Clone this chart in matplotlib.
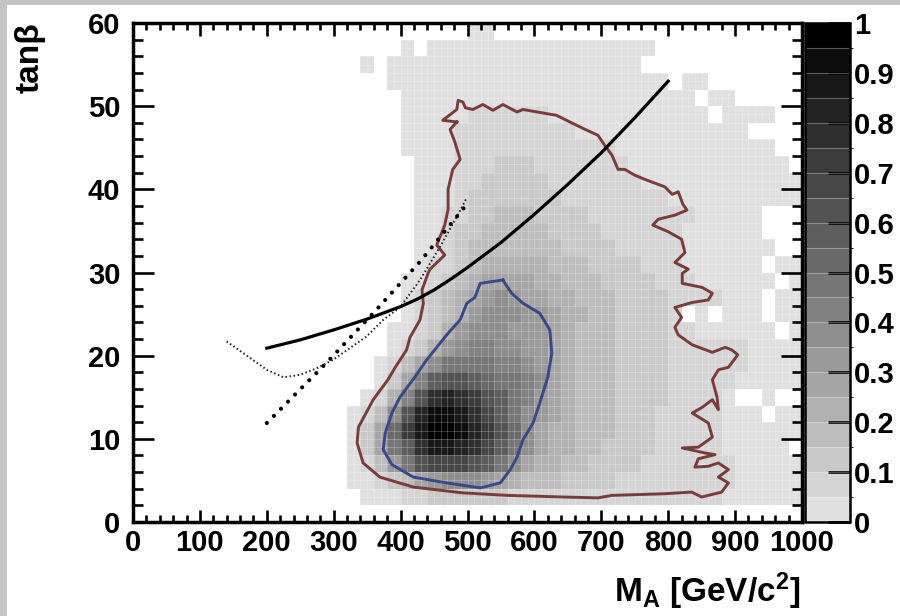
import numpy as np
import matplotlib
matplotlib.use("Agg")
import matplotlib.pyplot as plt
from matplotlib.colors import ListedColormap, BoundaryNorm
from matplotlib.patches import Rectangle

plt.rcParams['font.family'] = ['Liberation Sans', 'DejaVu Sans']
plt.rcParams['font.weight'] = 'bold'
plt.rcParams['mathtext.fontset'] = 'custom'
plt.rcParams['mathtext.rm'] = 'Liberation Sans:bold'
plt.rcParams['mathtext.it'] = 'Liberation Sans:bold'
plt.rcParams['mathtext.bf'] = 'Liberation Sans:bold'

# ---------------- data ----------------
# 2D posterior histogram.
# each row: (tanb bin low edge, M_A of first cell, level codes); one code = 20 GeV x 2 in tanb
# '.' = empty bin, '0'..'9','a'..'j' = colour level 0..19 (value band of 0.05)
LEVEL_CODES = "0123456789abcdefghij"
hist_rows = [
    (58, 500, "00"),
    (56, 400, "0.00000000000000000"),
    (54, 340, "0.0000000000000000000"),
    (52, 380, "000000000000000000000.00"),
    (50, 400, "0000000000000000000000.00"),
    (48, 400, "00000111111000000000000.0000"),
    (46, 400, "00001111111110000000000000"),
    (44, 400, "0000111111111111000000000000"),
    (42, 420, "0001112221111111000000000000"),
    (40, 420, "00011222221111111000000000000"),
    (38, 420, "00012222222111111110000000000"),
    (36, 420, "00112233322221111111100000...."),
    (34, 420, "00122333332222111111000000..."),
    (32, 420, "001233333332222111110000000.."),
    (30, 420, "01123444443332222111000000.00"),
    (28, 400, "0012345555443332222111000000.0"),
    (26, 400, "012345676554433322221111000.00"),
    (24, 400, "012346777665443322221.0.000.00"),
    (22, 380, "00124677766654333222211000000.0"),
    (20, 380, "0124678877665433322221111110000"),
    (18, 360, "01357999988765433322221111110000"),
    (16, 360, "0258bccba99875433322221111100000"),
    (14, 340, "0148cfgfecb98654333222211110..0"),
    (12, 320, "0137cgiihfdb9765433322211111000.00"),
    (10, 320, "025aehjjigeca754433322211111000000"),
    (8, 320, "0259bfhhgfdb975443322221111100000"),
    (6, 320, "01369cdddcb97544332222111111100000"),
    (4, 320, "0012356777654333222211111111100000"),
    (2, 340, "000112222221111111111111111000000"),
]

# contour lines (M_A, tanb)
outer_ma = [484, 463, 484, 486, 493, 497, 508, 523, 538, 553, 574, 583, 604, 633, 653,
            676, 695, 705, 716, 725, 735, 750, 765, 795, 806, 815, 822, 828, 810, 785,
            777, 800, 820, 825, 810, 830, 821, 821, 851, 866, 860, 836, 810, 820, 810,
            815, 836, 866, 885, 895, 904, 890, 875, 866, 873, 875, 866, 851, 836, 860,
            866, 845, 821, 855, 870, 845, 840, 860, 875, 890, 875, 890, 880, 850, 835,
            795, 716, 695, 646, 560, 493, 419, 369, 344, 335, 337, 359, 381, 392, 409,
            414, 429, 434, 432, 441, 444, 466, 454, 466, 471, 471, 478, 489, 481, 474, 484]
outer_tb = [48.1, 48.3, 49.6, 50.7, 50.5, 49.8, 49.6, 50.2, 49.5, 50.2, 49.3, 49.6, 49.3, 48.9, 48.1,
            47.2, 46.5, 45.3, 44.1, 42.4, 42.4, 41.7, 41.2, 40.3, 39.4, 39.7, 38.2, 37.5, 36.9, 36.4,
            35.7, 34.9, 34.0, 32.4, 31.2, 30.4, 29.9, 28.7, 28.2, 27.5, 26.7, 26.4, 25.8, 24.6, 23.4,
            22.5, 21.3, 20.4, 21.0, 20.7, 20.1, 18.6, 18.3, 17.1, 15.0, 13.5, 14.7, 13.8, 13.1, 11.9,
            10.2, 9.0, 8.9, 8.3, 8.1, 7.6, 6.6, 6.7, 7.1, 6.3, 5.4, 4.7, 3.6, 3.0, 3.6,
            3.4, 3.2, 2.9, 3.0, 3.2, 3.5, 4.2, 5.4, 7.1, 9.5, 11.4, 14.7, 17.1, 18.6, 20.7,
            22.2, 24.3, 26.3, 27.9, 29.9, 30.4, 32.1, 33.3, 35.7, 37.6, 40.0, 42.4, 43.6, 45.7, 47.2, 48.1]

inner_ma = [553, 519, 511, 499, 489, 471, 459, 439, 421, 399, 387, 377, 374, 387, 419,
            469, 519, 549, 564, 574, 583, 598, 608, 620, 626, 623, 608, 583, 566, 556, 553]
inner_tb = [29.1, 28.7, 27.0, 26.3, 24.3, 22.7, 21.5, 19.5, 17.4, 15.0, 13.1, 10.7, 8.7, 6.9, 5.4,
            4.7, 4.1, 4.7, 6.3, 7.8, 9.9, 11.9, 14.3, 17.4, 20.3, 23.1, 25.1, 26.3, 27.5, 28.7, 29.1]

solid_ma = [200, 250, 300, 350, 400, 425, 450, 475, 500, 550, 600, 650, 700, 750, 800]
solid_tb = [20.9, 21.9, 23.1, 24.4, 25.9, 26.8, 27.9, 29.2, 30.6, 33.6, 37.0, 40.6, 44.4, 48.6, 53.0]

dash_ma = [200, 290, 359, 429, 500]
dash_tb = [11.9, 19.2, 25.1, 31.3, 38.3]

dot_ma = [140, 165, 200, 225, 250, 275, 299, 324, 349, 374, 399, 429, 459, 484, 499]
dot_tb = [21.7, 20.3, 18.3, 17.4, 17.7, 18.5, 19.5, 20.9, 22.3, 24.3, 25.8, 29.1, 33.1, 36.7, 39.0]

x_ticks = list(range(0, 1001, 100))
y_ticks = list(range(0, 61, 10))
cb_ticks = [0, 0.1, 0.2, 0.3, 0.4, 0.5, 0.6, 0.7, 0.8, 0.9, 1]
cb_labels = ['0', '0.1', '0.2', '0.3', '0.4', '0.5', '0.6', '0.7', '0.8', '0.9', '1']

# ---------------- figure ----------------
W, H = 900, 616
fig = plt.figure(figsize=(W / 100, H / 100), dpi=100, facecolor='#c4c4c4')
fig.add_artist(Rectangle((7 / W, 0), 1, 1 - 5 / H, transform=fig.transFigure,
                         facecolor='white', edgecolor='none', zorder=-10))

ax = fig.add_axes([133 / W, 1 - 522 / H, 669 / W, 499 / H])

ma_edges = np.arange(0, 1001, 20)
tb_edges = np.arange(0, 61, 2)
z = np.full((len(tb_edges) - 1, len(ma_edges) - 1), np.nan)
for tb_low, x0, codes in hist_rows:
    r = tb_low // 2
    c0 = x0 // 20
    for k, ch in enumerate(codes):
        if ch != '.' and c0 + k < z.shape[1]:
            z[r, c0 + k] = (LEVEL_CODES.index(ch) + 0.5) / 20

greys = [(0.88 * (1 - k / 19),) * 3 for k in range(20)]
cmap = ListedColormap(greys)
norm = BoundaryNorm(np.linspace(0, 1, 21), 20)
mesh = ax.pcolormesh(ma_edges, tb_edges, np.ma.masked_invalid(z), cmap=cmap, norm=norm,
                     shading='flat', zorder=1)

# fine bin texture
ax.vlines(np.arange(10, 1000, 10), 0, 60, colors='white', lw=0.5, alpha=0.3, zorder=1.5)
ax.hlines(np.arange(1, 60, 1), 0, 1000, colors='white', lw=0.5, alpha=0.3, zorder=1.5)

ax.plot(outer_ma, outer_tb, color='#7a3b3b', lw=2.1, zorder=3, solid_joinstyle='round')
ax.plot(inner_ma, inner_tb, color='#3b4888', lw=2.1, zorder=3, solid_joinstyle='round')
ax.plot(solid_ma, solid_tb, color='black', lw=2.3, zorder=4)
ax.plot(dash_ma, dash_tb, color='black', lw=3.0, linestyle=(0, (0.01, 2.4)),
        dash_capstyle='round', zorder=4)
ax.plot(dot_ma, dot_tb, color='#222222', lw=1.4, linestyle=(0, (0.8, 1.3)), zorder=4)

ax.set_xlim(0, 1000)
ax.set_ylim(0, 60)
ax.set_xticks(x_ticks)
ax.set_yticks(y_ticks)
ax.set_xticks(np.arange(0, 1001, 20), minor=True)
ax.set_yticks(np.arange(0, 61, 2), minor=True)
for s in ax.spines.values():
    s.set_linewidth(2.5)
ax.tick_params(which='both', direction='in', top=True, right=True, width=1.9, labelsize=21)
ax.xaxis.set_tick_params(which='major', length=9, pad=5)
ax.xaxis.set_tick_params(which='minor', length=5)
ax.yaxis.set_tick_params(which='major', length=15, pad=9)
ax.yaxis.set_tick_params(which='minor', length=7)
for lab in ax.get_xticklabels() + ax.get_yticklabels():
    lab.set_fontweight('bold')

# colour bar
cax = fig.add_axes([805 / W, 1 - 522 / H, 45 / W, 499 / H])
cb = fig.colorbar(mesh, cax=cax, ticks=cb_ticks, drawedges=True)
cb.dividers.set_color('white')
cb.dividers.set_alpha(0.3)
cb.dividers.set_linewidth(0.8)
cb.outline.set_linewidth(1.8)
cax.tick_params(direction='in', length=16, width=1.9, labelsize=21, pad=3)
cax.set_yticklabels(cb_labels)
for lab in cax.get_yticklabels():
    lab.set_fontweight('bold')

fig.text(30 / W, 1 - 22 / H, 'tanβ', rotation=90, ha='center', va='top',
         fontsize=24, fontweight='bold')
fig.text(800 / W, 14 / H, r'M$_{A}$ [GeV/c$^{2}$]', ha='right', va='baseline',
         fontsize=24, fontweight='bold')

fig.savefig('out.png', dpi=100, facecolor=fig.get_facecolor())
